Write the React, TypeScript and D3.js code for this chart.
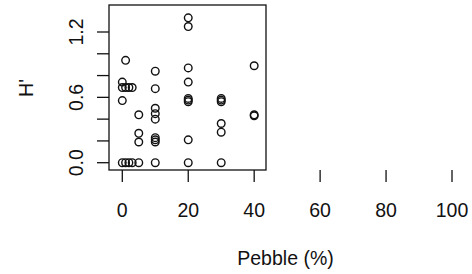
import * as d3 from "d3";

// Pebble (%) and H' values
const pebble = [
  0, 0, 0, 0,
  1, 1, 1,
  2, 2,
  3, 3,
  5, 5, 5, 5,
  10, 10, 10, 10, 10, 10, 10, 10, 10,
  20, 20, 20, 20, 20, 20, 20, 20, 20,
  30, 30, 30, 30, 30, 30,
  40, 40, 40,
];
const shannon = [
  0, 0.57, 0.69, 0.74,
  0, 0.69, 0.94,
  0, 0.69,
  0, 0.69,
  0, 0.19, 0.27, 0.44,
  0, 0.19, 0.21, 0.23, 0.4, 0.45, 0.5, 0.68, 0.84,
  0, 0.21, 0.56, 0.575, 0.59, 0.74, 0.87, 1.25, 1.33,
  0, 0.28, 0.36, 0.56, 0.575, 0.59,
  0.43, 0.44, 0.89,
];
const xTicks = [0, 20, 40, 60, 80, 100];
const yTicks = [0, 0.2, 0.4, 0.6, 0.8, 1.0, 1.2];
const yLabels = [0, 0.6, 1.2];

export default function App() {
  const width = 472;
  const height = 274;

  const x = d3.scaleLinear().domain([0, 100]).range([122.3, 452]);
  const y = d3.scaleLinear().domain([0, 1.2]).range([162.7, 32]);

  // plot box
  const left = 109;
  const right = 266;
  const top = 5;
  const bottom = 170;

  const font = "'Liberation Sans', Arial, sans-serif";
  const ink = "#111";
  const fs = 19.5;

  return (
    <svg
      width={width}
      height={height}
      style={{ position: "absolute", left: 0, top: 0, background: "#fff" }}
    >
      <rect
        x={left}
        y={top}
        width={right - left}
        height={bottom - top}
        fill="none"
        stroke={ink}
        strokeWidth={1.3}
      />

      {/* x axis */}
      {xTicks.map((t) => (
        <g key={t}>
          <line x1={x(t)} x2={x(t)} y1={bottom} y2={bottom + 12} stroke={ink} strokeWidth={1.3} />
          <text
            x={x(t)}
            y={217}
            textAnchor="middle"
            fontFamily={font}
            fontSize={fs}
            fill={ink}
          >
            {t}
          </text>
        </g>
      ))}
      <text x={285.5} y={264.5} textAnchor="middle" fontFamily={font} fontSize={fs} fill={ink}>
        Pebble (%)
      </text>

      {/* y axis */}
      {yTicks.map((t) => (
        <line key={t} x1={left - 12} x2={left} y1={y(t)} y2={y(t)} stroke={ink} strokeWidth={1.3} />
      ))}
      {yLabels.map((t) => (
        <text
          key={t}
          transform={`translate(82.5,${y(t)}) rotate(-90)`}
          textAnchor="middle"
          fontFamily={font}
          fontSize={fs}
          fill={ink}
        >
          {t.toFixed(1)}
        </text>
      ))}
      <text
        transform={`translate(33,88) rotate(-90)`}
        textAnchor="middle"
        fontFamily={font}
        fontSize={fs}
        fill={ink}
      >
        H'
      </text>

      {/* points */}
      {pebble.map((p, i) => (
        <circle
          key={i}
          cx={x(p)}
          cy={y(shannon[i])}
          r={3.8}
          fill="none"
          stroke={ink}
          strokeWidth={1.4}
        />
      ))}
    </svg>
  );
}
